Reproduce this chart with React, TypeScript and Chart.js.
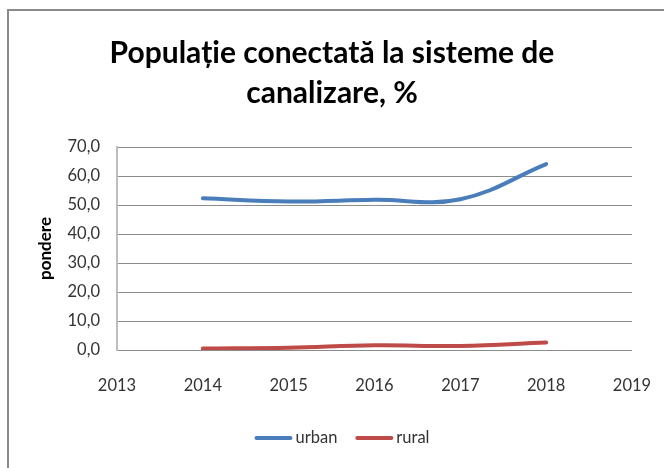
import React, { useEffect, useRef } from "react";
import { Chart, registerables } from "chart.js";

Chart.register(...registerables);

const years = [2014, 2015, 2016, 2017, 2018];
const urbanValues = [52.3, 51.2, 51.8, 52.0, 64.1];
const ruralValues = [0.5, 0.8, 1.6, 1.4, 2.6];
const seriesNames = ["urban", "rural"];
const titleLines = ["Populație conectată la sisteme de", "canalizare, %"];
const yAxisTitle = "pondere";
const xMin = 2013;
const xMax = 2019;
const yMin = 0;
const yMax = 70;
const yStep = 10;

const FONT = "Lato, 'Open Sans', sans-serif";
const BLUE = "#4A7EBB";
const RED = "#BE4B48";

const framePlugin = {
  id: "frame",
  beforeDraw(chart: any) {
    const ctx = chart.ctx;
    ctx.save();
    ctx.strokeStyle = "#8a8a8a";
    ctx.lineWidth = 2;
    ctx.strokeRect(8, 10, 700, 500);
    ctx.restore();
  },
};

const legendPlugin = {
  id: "customLegend",
  afterDraw(chart: any) {
    const ctx = chart.ctx;
    ctx.save();
    ctx.font = `16.5px ${FONT}`;
    const lineLen = 38;
    const gap = 3;
    const itemGap = 18;
    const items = chart.data.datasets.map((ds: any) => ({
      label: ds.label,
      color: ds.borderColor,
      w: ctx.measureText(ds.label).width,
    }));
    let total = 0;
    items.forEach((it: any, i: number) => {
      total += lineLen + gap + it.w + (i > 0 ? itemGap : 0);
    });
    let x = 342 - total / 2;
    const y = 438;
    items.forEach((it: any) => {
      ctx.strokeStyle = it.color;
      ctx.lineWidth = 4;
      ctx.lineCap = "round";
      ctx.beginPath();
      ctx.moveTo(x + 2, y);
      ctx.lineTo(x + lineLen - 2, y);
      ctx.stroke();
      ctx.fillStyle = "#333333";
      ctx.textBaseline = "middle";
      ctx.textAlign = "left";
      ctx.fillText(it.label, x + lineLen + gap, y);
      x += lineLen + gap + it.w + itemGap;
    });
    ctx.restore();
  },
};

export default function App() {
  const ref = useRef<HTMLCanvasElement | null>(null);

  useEffect(() => {
    if (!ref.current) return;
    const chart = new Chart(ref.current, {
      type: "line",
      data: {
        datasets: [
          {
            label: seriesNames[0],
            data: years.map((x, i) => ({ x, y: urbanValues[i] })),
            borderColor: BLUE,
            backgroundColor: BLUE,
            borderWidth: 4,
            pointRadius: 0,
            tension: 0.4,
            borderCapStyle: "round",
          },
          {
            label: seriesNames[1],
            data: years.map((x, i) => ({ x, y: ruralValues[i] })),
            borderColor: RED,
            backgroundColor: RED,
            borderWidth: 4,
            pointRadius: 0,
            tension: 0.4,
            borderCapStyle: "round",
          },
        ],
      },
      options: {
        responsive: false,
        animation: false,
        layout: { padding: { top: 0, left: 0, right: 0, bottom: 0 } },
        plugins: {
          legend: { display: false },
          tooltip: { enabled: false },
          title: {
            display: true,
            text: titleLines,
            color: "#000000",
            font: { family: FONT, size: 30, weight: "bold", lineHeight: 40 / 30 },
            padding: { top: 33, bottom: 34 },
          },
        },
        scales: {
          x: {
            type: "linear",
            min: xMin,
            max: xMax,
            grid: { display: false },
            border: { display: false },
            ticks: {
              stepSize: 1,
              padding: 18,
              color: "#333333",
              font: { family: FONT, size: 16.5 },
              callback: (v: any) => String(v),
            },
            afterFit: (s: any) => {
              s.height = 118;
              s.paddingLeft = 0;
              s.paddingRight = 0;
            },
          },
          y: {
            position: "left",
            min: yMin,
            max: yMax,
            grid: { color: "#8c8c8c", lineWidth: 1, drawTicks: false },
            border: { display: true, color: "#bdbdbd", width: 2 },
            ticks: {
              stepSize: yStep,
              padding: 17,
              color: "#333333",
              font: { family: FONT, size: 16.5 },
              callback: (v: any) => Number(v).toFixed(1).replace(".", ","),
            },
            title: {
              display: true,
              text: yAxisTitle,
              color: "#000000",
              font: { family: FONT, size: 17, weight: "bold" },
              padding: { top: 35, bottom: 0 },
            },
            afterFit: (s: any) => {
              s.width = 117;
            },
          },
          yRight: {
            position: "right",
            display: true,
            grid: { display: false },
            border: { display: false },
            ticks: { display: false },
            afterFit: (s: any) => {
              s.width = 32;
            },
          },
        },
      } as any,
      plugins: [framePlugin, legendPlugin],
    });
    return () => chart.destroy();
  }, []);

  return (
    <div style={{ position: "fixed", left: 0, top: 0, width: 664, height: 468 }}>
      <canvas ref={ref} width={664} height={468} style={{ display: "block" }} />
    </div>
  );
}
